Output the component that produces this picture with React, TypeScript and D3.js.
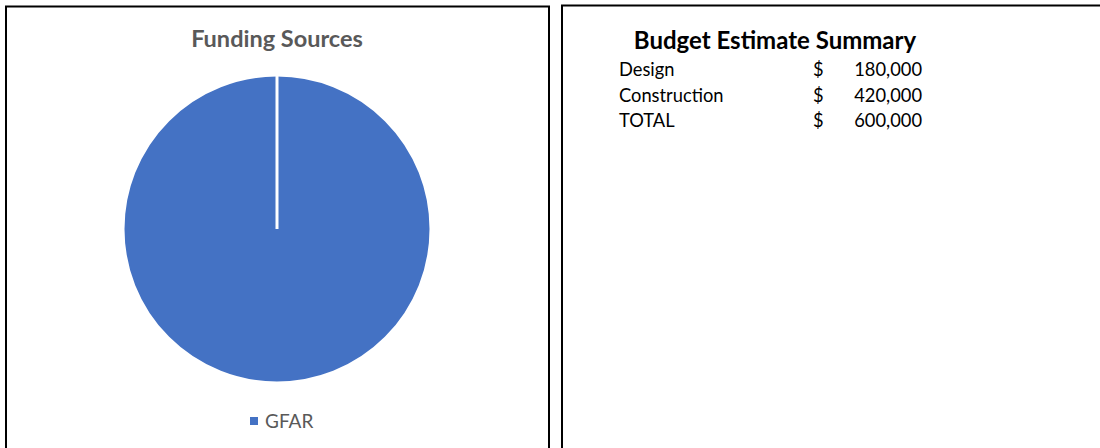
import React from "react";
import * as d3 from "d3";

const sources = ["GFAR"];
const sourceValues = [600000];
const budgetItems = ["Design", "Construction", "TOTAL"];
const budgetValues = [180000, 420000, 600000];

const FONT = "Lato, 'Open Sans', sans-serif";

export default function App() {
  const W = 1100, H = 448;
  const cx = 277, cy = 229, r = 154;
  const pie = d3.pie<number>().sort(null)(sourceValues);
  const arc = d3.arc<d3.PieArcDatum<number>>().innerRadius(0).outerRadius(r);
  const color = d3.scaleOrdinal<string, string>().domain(sources).range(["#4472C4"]);
  const fmt = d3.format(",");
  const rowY = d3.scalePoint<string>().domain(budgetItems).range([76, 127]);
  return (
    <svg width={W} height={H} style={{ position: "absolute", left: 0, top: 0 }}>
      <rect x={0} y={0} width={W} height={H} fill="#fff" />
      <rect x={6} y={6.5} width={543} height={460} fill="#fff" stroke="#000" strokeWidth={2} />
      <rect x={562} y={5.5} width={560} height={460} fill="#fff" stroke="#000" strokeWidth={2} />
      <text x={cx} y={47} textAnchor="middle" fontFamily={FONT} fontWeight="bold" fontSize={23.5} fill="#595959">Funding Sources</text>
      <g transform={`translate(${cx},${cy})`}>
        {pie.map((d, i) => (
          <path key={i} d={arc(d) || ""} fill={color(sources[i])} stroke="#fff" strokeWidth={3} />
        ))}
        {pie.map((d, i) => (
          <line key={"e" + i} x1={0} y1={0}
            x2={r * Math.sin(d.startAngle)} y2={-r * Math.cos(d.startAngle)}
            stroke="#fff" strokeWidth={3} />
        ))}
      </g>
      {sources.map((s, i) => (
        <g key={s}>
          <rect x={250} y={417} width={8} height={8} fill={color(s)} />
          <text x={265} y={428} fontFamily={FONT} fontSize={19} fill="#595959">{s}</text>
        </g>
      ))}
      <text x={775} y={49} textAnchor="middle" fontFamily={FONT} fontWeight="bold" fontSize={24} fill="#000">Budget Estimate Summary</text>
      {budgetItems.map((b, i) => (
        <g key={b} fontFamily={FONT} fontSize={18.3} fill="#000">
          <text x={619} y={rowY(b)}>{b}</text>
          <text x={813} y={rowY(b)}>$</text>
          <text x={922} y={rowY(b)} textAnchor="end">{fmt(budgetValues[i])}</text>
        </g>
      ))}
    </svg>
  );
}
